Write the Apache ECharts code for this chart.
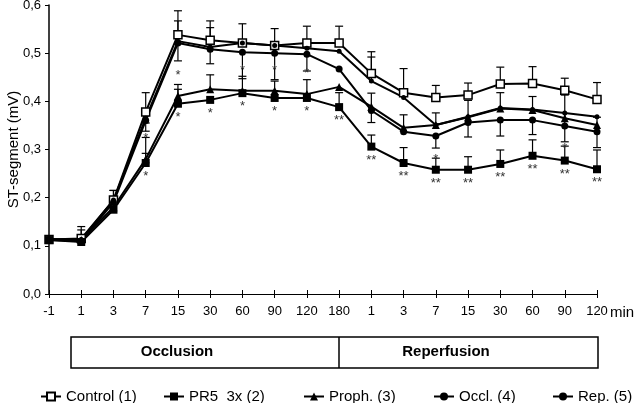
<!DOCTYPE html>
<html>
<head>
<meta charset="utf-8">
<script src="https://cdn.jsdelivr.net/npm/echarts@6/dist/echarts.min.js"></script>
<style>html,body{margin:0;padding:0;background:#fff}#c{width:640px;height:403px}</style>
</head>
<body>
<div id="c"></div>
<script>
// ---- data ----
const categories = ['-1','1','3','7','15','30','60','90','120','180','1','3','7','15','30','60','90','120'];
const yTicks = [0, 0.1, 0.2, 0.3, 0.4, 0.5, 0.6];

const control = [0.113, 0.115, 0.195, 0.378, 0.538, 0.527, 0.521, 0.516, 0.521, 0.521, 0.458, 0.418, 0.408, 0.413, 0.436, 0.437, 0.423, 0.404];
const pr5     = [0.112, 0.108, 0.175, 0.272, 0.395, 0.403, 0.417, 0.407, 0.407, 0.388, 0.306, 0.272, 0.258, 0.258, 0.270, 0.287, 0.277, 0.259];
const proph   = [0.113, 0.112, 0.180, 0.280, 0.411, 0.425, 0.422, 0.422, 0.415, 0.430, 0.389, 0.345, 0.351, 0.367, 0.385, 0.382, 0.365, 0.351];
const occl    = [0.112, 0.110, 0.190, 0.360, 0.521, 0.508, 0.502, 0.500, 0.498, 0.467, 0.381, 0.337, 0.328, 0.356, 0.361, 0.361, 0.349, 0.337];
const rep     = [0.114, 0.113, 0.195, 0.365, 0.525, 0.513, 0.521, 0.516, 0.510, 0.504, 0.442, 0.408, 0.351, 0.368, 0.386, 0.383, 0.376, 0.368];

// error bars (upper / lower lengths, 0 = none)
const controlUp = [0.008, 0.025, 0.020, 0.040, 0.050, 0.040, 0.040, 0.035, 0.035, 0.035, 0.045, 0.050, 0.025, 0.025, 0.035, 0.035, 0.025, 0.035];
const controlDn = [0, 0, 0, 0, 0, 0, 0, 0, 0, 0, 0, 0, 0, 0, 0, 0, 0, 0];
const pr5Up     = [0, 0, 0, 0.020, 0.030, 0, 0, 0, 0, 0.030, 0.024, 0.032, 0.024, 0.027, 0.029, 0.033, 0.030, 0.040];
const pr5Dn     = [0, 0, 0, 0, 0, 0, 0, 0, 0, 0, 0, 0, 0, 0, 0, 0, 0, 0];
const prophUp   = [0.006, 0.010, 0.010, 0.045, 0.024, 0.030, 0.030, 0.020, 0.030, 0, 0.028, 0.027, 0, 0.035, 0.033, 0.028, 0.048, 0.016];
const prophDn   = [0, 0, 0, 0, 0, 0, 0, 0, 0, 0, 0, 0, 0, 0, 0, 0, 0, 0];
const occlUp    = [0, 0, 0, 0, 0, 0, 0, 0, 0, 0, 0, 0, 0, 0, 0, 0, 0, 0];
const occlDn    = [0, 0, 0, 0.022, 0.037, 0.030, 0.055, 0.055, 0.035, 0, 0.025, 0, 0.025, 0.030, 0.033, 0.030, 0, 0.033];
const repUp     = [0, 0.020, 0.020, 0, 0.042, 0.040, 0, 0, 0, 0, 0.050, 0, 0.025, 0, 0, 0, 0, 0];
const repDn     = [0, 0, 0, 0.010, 0, 0, 0, 0, 0, 0, 0, 0, 0, 0, 0, 0, 0.060, 0];

// significance marks
const sigPR5   = ['', '', '', '*', '*', '*', '*', '*', '*', '**', '**', '**', '**', '**', '**', '**', '**', '**'];
const sigProph = ['', '', '', '*', '*', '', '*', '*', '*', '', '', '', '', '', '', '', '', ''];
const sigOccl  = ['', '', '', '', '', '', '', '', '', '', '', '', '*', '', '', '', '*', ''];

const seriesNames = ['Control (1)', 'PR5  3x (2)', 'Proph. (3)', 'Occl. (4)', 'Rep. (5)'];
const phaseLabels = ['Occlusion', 'Reperfusion'];

// ---- chart ----
const FONT = 'Liberation Sans, Arial, sans-serif';
const chart = echarts.init(document.getElementById('c'), null, {renderer: 'canvas'});

function errData(vals, up, dn) {
  return vals.map((v, i) => [i, v, up[i], dn[i]]);
}
const allErr = [].concat(
  errData(control, controlUp, controlDn),
  errData(pr5, pr5Up, pr5Dn),
  errData(proph, prophUp, prophDn),
  errData(occl, occlUp, occlDn),
  errData(rep, repUp, repDn)
);

function lineSeries(name, data, symbol, size, fill, sig, pos, dist) {
  return {
    name: name, type: 'line', data: data,
    symbol: symbol, symbolSize: size,
    lineStyle: {color: '#000', width: 2},
    itemStyle: {color: fill, borderColor: '#000', borderWidth: fill === '#fff' ? 1.5 : 0},
    z: 3,
    label: sig ? {
      show: true, position: pos, distance: dist,
      formatter: p => sig[p.dataIndex],
      color: '#333', fontSize: 13, fontFamily: FONT
    } : {show: false},
    labelLayout: {hideOverlap: false}
  };
}

const legendPos = [35, 158, 298, 428, 547];

chart.setOption({
  animation: false,
  backgroundColor: '#fff',
  grid: {left: 49, right: 43, top: 5, bottom: 109, containLabel: false, outerBoundsMode: 'none'},
  legend: seriesNames.map((n, i) => ({
    data: [n], left: legendPos[i], top: 384,
    itemWidth: 20, itemHeight: 10, itemGap: 5,
    textStyle: {fontSize: 15, color: '#000', fontFamily: FONT}
  })),
  xAxis: [{
    type: 'category', data: categories, boundaryGap: false,
    axisLine: {lineStyle: {color: '#000', width: 1}},
    axisTick: {show: true, inside: false, length: 4, lineStyle: {color: '#000'}, alignWithLabel: true},
    axisLabel: {color: '#000', fontSize: 13, fontFamily: FONT, margin: 11, interval: 0},
    splitLine: {show: false}
  }, {
    type: 'category', data: categories, boundaryGap: false, position: 'bottom',
    axisLine: {show: false},
    axisTick: {show: true, inside: true, length: 4, lineStyle: {color: '#000'}},
    axisLabel: {show: false}, splitLine: {show: false}
  }],
  yAxis: {
    type: 'value', min: yTicks[0], max: yTicks[yTicks.length - 1], interval: 0.1,
    name: 'ST-segment (mV)', nameLocation: 'middle', nameGap: 28, nameMoveOverlap: false,
    nameTextStyle: {fontSize: 15, color: '#000', fontFamily: FONT},
    axisLine: {show: true, lineStyle: {color: '#000', width: 1.5}},
    axisTick: {show: true, length: 4, lineStyle: {color: '#000'}},
    axisLabel: {color: '#000', fontSize: 13, fontFamily: FONT, margin: 8,
      formatter: v => v.toFixed(1).replace('.', ',')},
    splitLine: {show: false}
  },
  series: [
    {
      type: 'custom', name: 'err', data: allErr, z: 2,
      encode: {x: 0, y: 1},
      renderItem: function (params, api) {
        const x = api.value(0), y = api.value(1), up = api.value(2), dn = api.value(3);
        const c = api.coord([x, y]);
        const t = api.coord([x, y + up]);
        const b = api.coord([x, y - dn]);
        const ch = [];
        const st = {stroke: '#000', lineWidth: 1.2};
        if (up > 0) {
          ch.push({type: 'line', shape: {x1: c[0], y1: c[1], x2: t[0], y2: t[1]}, style: st});
          ch.push({type: 'line', shape: {x1: t[0] - 4, y1: t[1], x2: t[0] + 4, y2: t[1]}, style: st});
        }
        if (dn > 0) {
          ch.push({type: 'line', shape: {x1: c[0], y1: c[1], x2: b[0], y2: b[1]}, style: st});
          ch.push({type: 'line', shape: {x1: b[0] - 4, y1: b[1], x2: b[0] + 4, y2: b[1]}, style: st});
        }
        return {type: 'group', children: ch};
      },
      silent: true
    },
    lineSeries(seriesNames[0], control, 'rect', 8, '#fff', null),
    lineSeries(seriesNames[1], pr5, 'rect', 8, '#000', sigPR5, 'bottom', 3),
    lineSeries(seriesNames[2], proph, 'triangle', 8, '#000', sigProph, 'top', 10),
    lineSeries(seriesNames[3], occl, 'circle', 7, '#000', sigOccl, 'bottom', 13),
    lineSeries(seriesNames[4], rep, 'circle', 5, '#000', null)
  ],
  graphic: [
    {type: 'rect', shape: {x: 71, y: 337, width: 527, height: 31}, style: {fill: 'none', stroke: '#000', lineWidth: 1.5}},
    {type: 'line', shape: {x1: 339, y1: 337, x2: 339, y2: 368}, style: {stroke: '#000', lineWidth: 1.5}},
    {type: 'text', x: 177, y: 352, style: {text: phaseLabels[0], font: 'bold 15px ' + FONT, fill: '#000', align: 'center', verticalAlign: 'middle'}},
    {type: 'text', x: 446, y: 352, style: {text: phaseLabels[1], font: 'bold 15px ' + FONT, fill: '#000', align: 'center', verticalAlign: 'middle'}},
    {type: 'text', x: 610, y: 313, style: {text: 'min', font: '15px ' + FONT, fill: '#000', align: 'left', verticalAlign: 'middle'}}
  ]
});
</script>
</body>
</html>
